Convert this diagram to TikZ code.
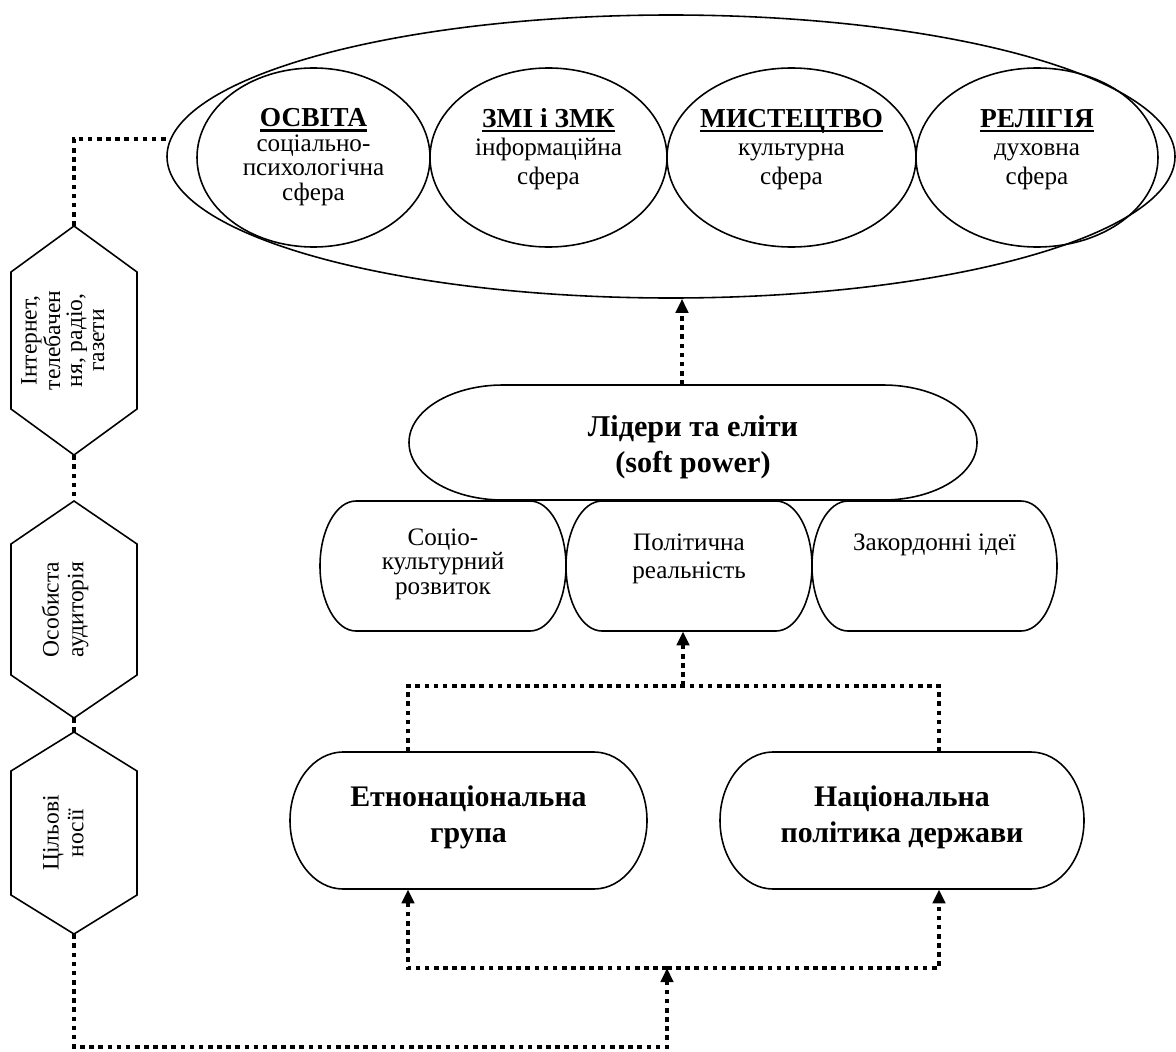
\documentclass[tikz,border=0pt]{standalone}
\usepackage{fontspec}
\usepackage{graphicx}
\setmainfont{Liberation Serif}
\usetikzlibrary{shapes.geometric,arrows.meta,calc}
\newsavebox\ttlbox
\newcommand\ttl[1]{\sbox\ttlbox{\fontsize{15.6}{17}\selectfont\bfseries #1}\rlap{\smash{\rule[-2.9pt]{\wd\ttlbox}{1.5pt}}}\usebox\ttlbox}
\newcommand\stadium[6]{%
  \draw[ol] (#2+#6,-#3) -- (#4-#6,-#3)
    arc[start angle=90,end angle=-90,x radius=#6,y radius={(#5-#3)/2}]
    -- (#2+#6,-#5)
    arc[start angle=270,end angle=90,x radius=#6,y radius={(#5-#3)/2}] -- cycle;
  \node[box, minimum width={(#4-#2)*0.02cm}, minimum height={(#5-#3)*0.02cm}] (#1) at ({(#2+#4)/2},{-(#3+#5)/2}) {};
}
\newcommand\hexa[6]{%
  \draw[ol] (74,-#2) -- (137,-#2-#4) -- (137,-#3+#4) -- (74,-#3) -- (11,-#3+#4) -- (11,-#2-#4) -- cycle;
  \node[box, minimum width={126*0.02cm}, minimum height={(#3-#2)*0.02cm}] (#1) at (74,{-(#2+#3)/2}) {};
  \node[box] (#1T) at ([xshift=-0.16cm]#1.center)
    {\fontsize{13.4}{#5}\selectfont\rotatebox{90}{\begin{tabular}{@{}c@{}}#6\end{tabular}}};
}
\begin{document}
\begin{tikzpicture}[x=0.02cm,y=0.02cm,
  ol/.style={line width=0.9pt},
  ell/.style={ellipse, draw, line width=0.9pt, inner sep=0},
  box/.style={rectangle, draw=none, inner sep=0},
  dl/.style={line width=2.2pt, dash pattern=on 2.6pt off 2.6pt},
  tip/.style={-{Triangle[width=7pt,length=8pt]}},
  ttxt/.style={anchor=base, align=center, inner sep=0, font=\fontsize{14.3}{#1}\selectfont},
  btxt/.style={anchor=base, align=center, inner sep=0, font=\fontsize{17}{20}\selectfont\bfseries}]
\useasboundingbox (0,0) rectangle (1176,-1051);

% top ellipses
\node[ell, minimum width={1008*0.02cm}, minimum height={283*0.02cm}] (outer) at (671,-156.5) {};
\node[ell, minimum width={233*0.02cm}, minimum height={179*0.02cm}] (osv) at (313.5,-157.5) {};
\node[ell, minimum width={237*0.02cm}, minimum height={179*0.02cm}] (zmi) at (548.5,-157.5) {};
\node[ell, minimum width={249*0.02cm}, minimum height={179*0.02cm}] (mys) at (791.5,-157.5) {};
\node[ell, minimum width={242*0.02cm}, minimum height={179*0.02cm}] (rel) at (1037,-157.5) {};

\node[ttxt=13.9pt] (osvT) at (313.5,-200) {\ttl{ОСВІТА}\\соціально-\\психологічна\\сфера};
\node[ttxt=16.2pt] (zmiT) at (548.5,-184) {\ttl{ЗМІ і ЗМК}\\інформаційна\\сфера};
\node[ttxt=16.2pt] (mysT) at (791.5,-184) {\ttl{МИСТЕЦТВО}\\культурна\\сфера};
\node[ttxt=16.2pt] (relT) at (1037,-184) {\ttl{РЕЛІГІЯ}\\духовна\\сфера};

% leaders
\stadium{lid}{409}{385}{977}{500}{94}
\node[btxt, font=\fontsize{17.2}{20}\selectfont\bfseries] (lidT) at (693,-472) {Лідери та еліти\\(soft power)};

\stadium{soc}{320}{501}{566}{631}{36}
\stadium{pol}{566}{501}{812}{631}{36}
\stadium{zak}{812}{501}{1057}{631}{36}
\node[ttxt=13.7pt] (socT) at (443,-594) {Соціо-\\культурний\\розвиток};
\node[ttxt=15.9pt] (polT) at (689,-578) {Політична\\реальність};
\node[ttxt=15pt] (zakT) at (934.5,-550) {Закордонні ідеї};

% bottom boxes
\stadium{et}{290}{752}{647}{889}{53}
\stadium{nac}{720}{752}{1084}{889}{53}
\node[btxt] (etT) at (468.5,-842) {Етнонаціональна\\група};
\node[btxt] (nacT) at (902,-842) {Національна\\політика держави};

% hexagons
\hexa{h1}{226}{455}{46}{12.5pt}{Інтернет,\\телебачен\\ня, радіо,\\газети}
\hexa{h2}{501}{718}{43}{14.2pt}{Особиста\\аудиторія}
\hexa{h3}{732}{934}{39}{14.2pt}{Цільові\\носії}

% connectors
\draw[dl,tip] ([xshift=-0.22cm]lid.north) -- ([xshift=-0.22cm]lid.north |- outer.south);
\coordinate (jt) at (683,-686);
\draw[dl] ([xshift=-1.21cm]et.north) |- (jt) -| ([xshift=0.74cm]nac.north);
\draw[dl,tip] (jt) -- (jt |- pol.south);
\coordinate (jb) at (667,-968);
\draw[dl,tip] (jb) -| ([xshift=-1.21cm]et.south);
\draw[dl,tip] (jb) -| ([xshift=0.74cm]nac.south);
\coordinate (cb) at (667,-1047);
\draw[dl,tip] (h3.south) |- (cb) -- (jb);
\draw[dl] (h1.south) -- (h2.north);
\draw[dl] (h2.south) -- (h3.north);
\draw[dl] (h1.north) |- (outer.178);
\end{tikzpicture}
\end{document}
